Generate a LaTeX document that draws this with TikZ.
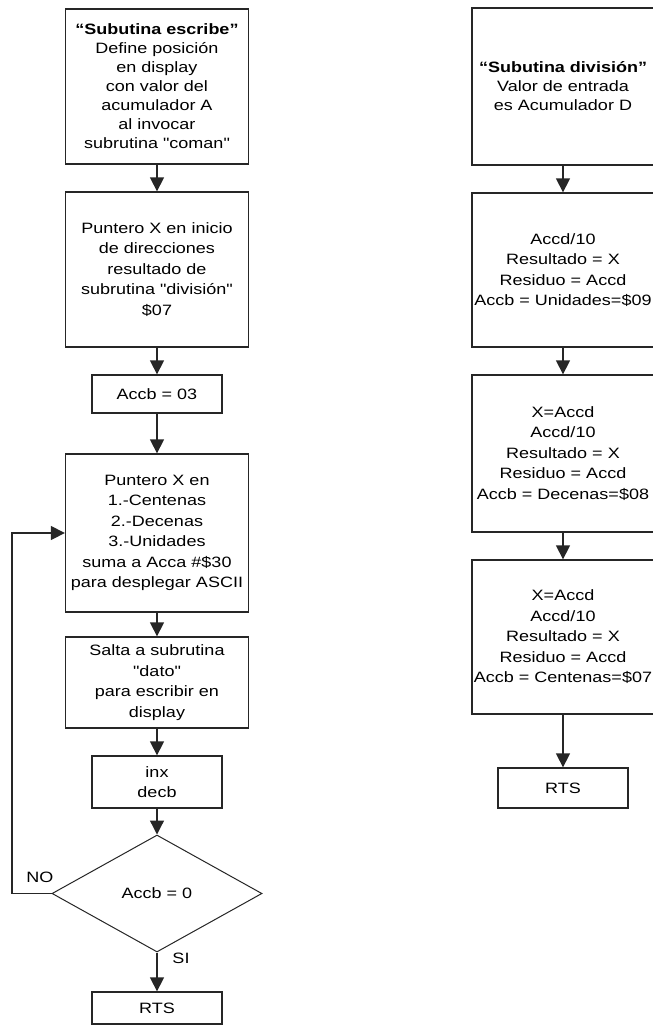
\documentclass[tikz,border=0pt]{standalone}
\usepackage{fontspec}
\setmainfont{Liberation Sans}[FakeStretch=1.2,Ligatures=TeXOff]
\usetikzlibrary{arrows.meta,shapes.geometric}
\begin{document}
\begin{tikzpicture}[x=1pt,y=-1pt,
  box/.style={draw=black!85,line width=1.3pt,align=center,inner sep=0pt,
    font=\fontsize{15}{20.5}\selectfont},
  tight/.style={font=\fontsize{15}{19}\selectfont},
  dia/.style={draw=black!85,line width=1pt,diamond,inner sep=0pt,
    font=\fontsize{15}{20.5}\selectfont},
  lbl/.style={inner sep=0pt,font=\fontsize{15}{18}\selectfont},
  arr/.style={-{Triangle[length=14pt,width=14pt]},line width=1.3pt,draw=black!85}]
\useasboundingbox (0,0) rectangle (653,1026);
\fill[white] (0,0) rectangle (653,1026);

% left column
\node[box,tight,minimum width=183pt,minimum height=155pt] (b1) at (157,86.5)
  {\textbf{“Subutina escribe”}\\Define posición\\en display\\con valor del\\acumulador A\\al invocar\\subrutina "coman"};
\node[box,minimum width=183pt,minimum height=155pt] (b2) at (157,269.5)
  {Puntero X en inicio\\de direcciones\\resultado de\\subrutina "división"\\\$07};
\node[box,minimum width=130pt,minimum height=38pt] (b3) at (157,394) {Accb = 03};
\node[box,minimum width=183pt,minimum height=158pt] (b4) at (157,533)
  {Puntero X en\\1.-Centenas\\2.-Decenas\\3.-Unidades\\suma a Acca \#\$30\\para desplegar ASCII};
\node[box,minimum width=183pt,minimum height=91pt] (b5) at (157,682.5)
  {Salta a subrutina\\"dato"\\para escribir en\\display};
\node[box,minimum width=130pt,minimum height=52pt] (b6) at (157,782) {inx\\decb};
\node[dia,minimum width=210pt,minimum height=117pt] (d) at (157,893.5) {Accb = 0};
\node[box,minimum width=130pt,minimum height=32pt] (b7) at (157,1008) {RTS};
\node[lbl] (no) at (40,877) {NO};
\node[lbl] (si) at (181,958) {SI};
\coordinate (lp) at (12,893.5);

\draw[arr] (b1) -- (b2);
\draw[arr] (b2) -- (b3);
\draw[arr] (b3) -- (b4);
\draw[arr] (b4) -- (b5);
\draw[arr] (b5) -- (b6);
\draw[arr] (b6) -- (d);
\draw[arr] (d.south) -- (b7);
\draw[arr] (d.west) -- (lp) |- (b4.west);

% right column
\node[box,tight,minimum width=182pt,minimum height=157pt] (r1) at (563,86.5)
  {\textbf{“Subutina división”}\\Valor de entrada\\es Acumulador D};
\node[box,minimum width=182pt,minimum height=154pt] (r2) at (563,270)
  {Accd/10\\Resultado = X\\Residuo = Accd\\Accb = Unidades=\$09};
\node[box,minimum width=182pt,minimum height=157pt] (r3) at (563,453.5)
  {X=Accd\\Accd/10\\Resultado = X\\Residuo = Accd\\Accb = Decenas=\$08};
\node[box,minimum width=182pt,minimum height=154pt] (r4) at (563,637)
  {X=Accd\\Accd/10\\Resultado = X\\Residuo = Accd\\Accb = Centenas=\$07};
\node[box,minimum width=130pt,minimum height=40pt] (r5) at (563,788) {RTS};

\draw[arr] (r1) -- (r2);
\draw[arr] (r2) -- (r3);
\draw[arr] (r3) -- (r4);
\draw[arr] (r4) -- (r5);
\end{tikzpicture}
\end{document}
